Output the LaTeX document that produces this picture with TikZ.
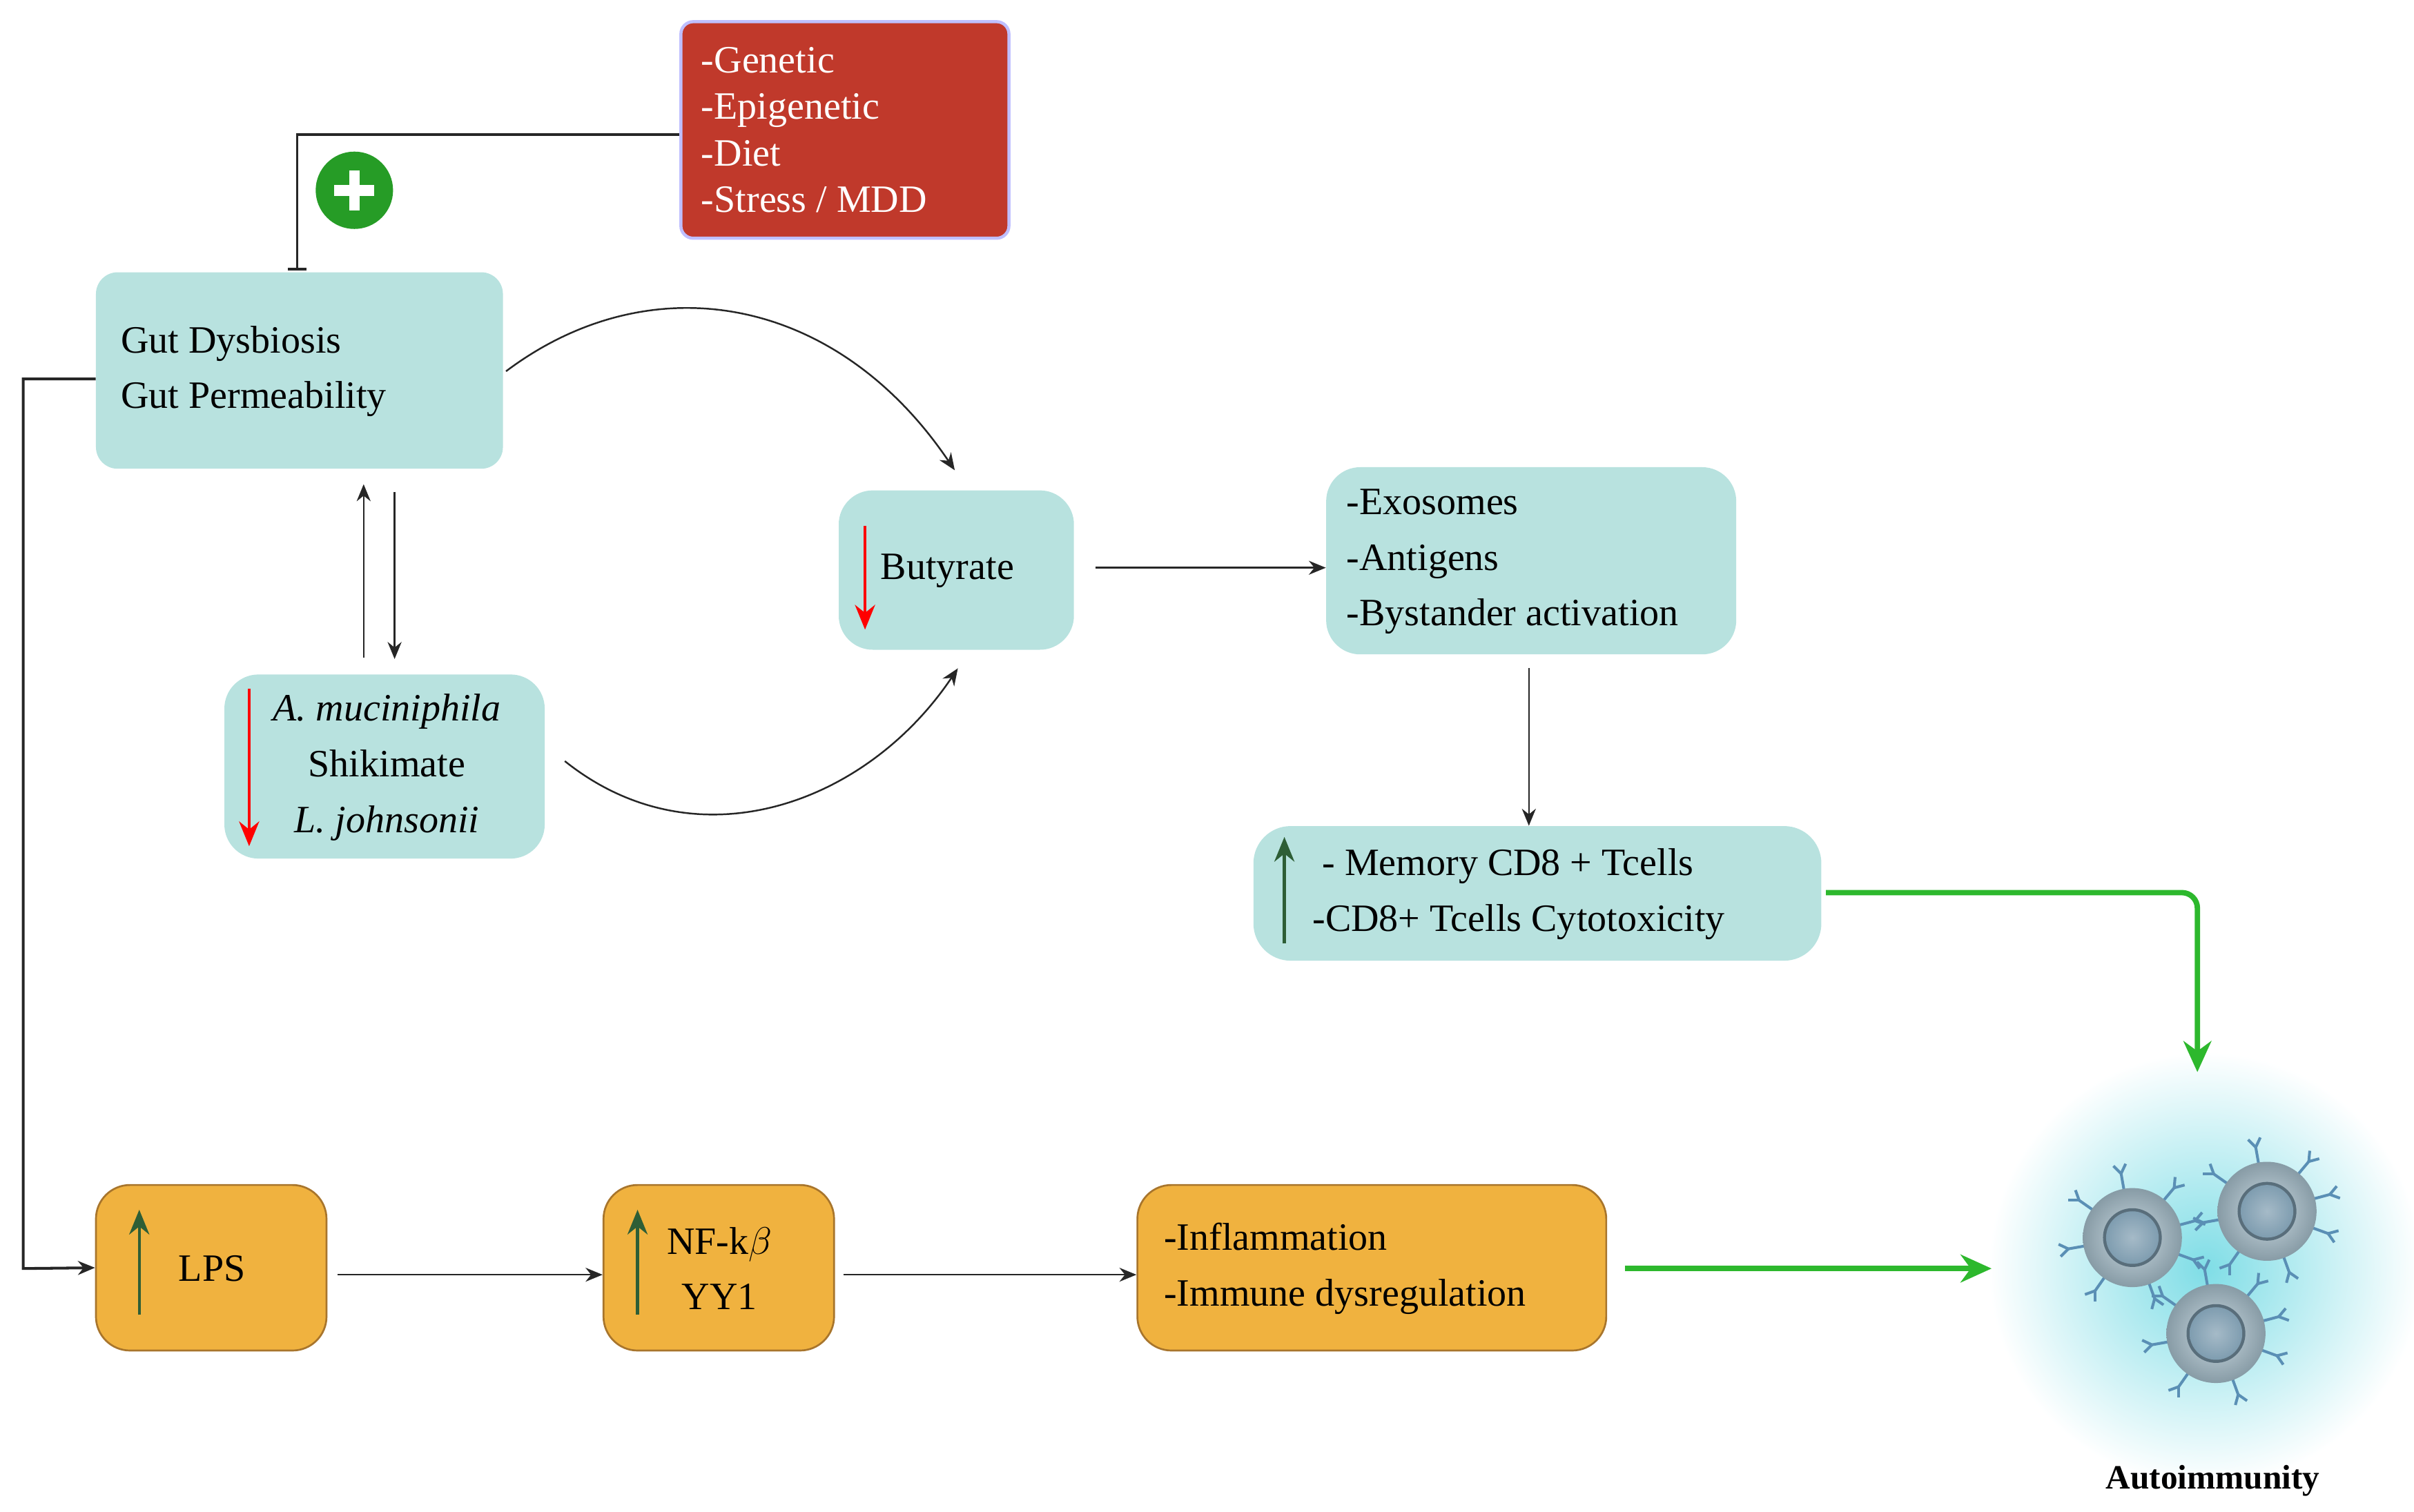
\documentclass[tikz,border=0pt]{standalone}
\usepackage{fontspec}
\setmainfont{Liberation Serif}
\usetikzlibrary{arrows.meta,shadings}
\definecolor{teal1}{HTML}{B8E2DF}
\definecolor{red1}{HTML}{C0392B}
\definecolor{org}{HTML}{F0B23F}
\definecolor{orgb}{HTML}{A8752C}
\definecolor{dgreen}{HTML}{2E5E36}
\definecolor{bgreen}{HTML}{2DB82D}
\definecolor{cellc}{HTML}{A9C2CF}
\definecolor{nuc}{HTML}{7F9DB0}
\definecolor{abc}{HTML}{5A8FB5}
\definecolor{glow}{HTML}{7FDDE6}
\tikzset{
 tbox/.style={fill=teal1,rounded corners=14pt,draw=none},
 obox/.style={fill=org,draw=orgb,line width=1.2pt,rounded corners=22pt},
 txt/.style={font=\fontsize{25}{30}\selectfont,align=left,inner sep=0pt},
 arr/.style={-{Stealth[length=11pt,width=9pt]},line width=1.1pt,black!85},
 redup/.style={-{Stealth[length=16pt,width=13pt]},line width=2pt,red},
 grup/.style={-{Stealth[length=16pt,width=13pt]},line width=2pt,dgreen},
 garr/.style={-{Stealth[length=20pt,width=18pt]},line width=3.5pt,bgreen},
 cell/.pic={
   \foreach \a in {20,70,125,170,215,260,310,345}{
     \draw[abc,line width=1.8pt] (\a:30) -- (\a:42);
     \draw[abc,line width=1.8pt] (\a:42) -- ++(\a+35:7);
     \draw[abc,line width=1.8pt] (\a:42) -- ++(\a-35:7);}
   \shade[inner color=cellc!60,outer color=cellc!80!black] (0,0) circle (32);
   \fill[nuc!70!black] (0,0) circle (19);
   \shade[inner color=nuc!70,outer color=nuc] (0,0) circle (17);
 }
}
\begin{document}
\begin{tikzpicture}[x=1pt,y=-1pt]
\useasboundingbox (0,0) rectangle (1560,977);
% glow
\shade[inner color=glow,outer color=white] (1425,820) circle (140);
% boxes
\node[fill=red1,draw=blue!25,line width=2pt,rounded corners=8pt,minimum width=212pt,minimum height=140pt] (risk) at (546,84) {};
\node[txt,text=white,anchor=west] at (453,84) {-Genetic\\-Epigenetic\\-Diet\\-Stress / MDD};
\node[tbox,minimum width=263pt,minimum height=127pt] (gut) at (193.5,239.5) {};
\node[txt,anchor=west] at (78,240) {Gut Dysbiosis\\[6pt]Gut Permeability};
\node[tbox,minimum width=207pt,minimum height=119pt,rounded corners=22pt] (bac) at (248.5,495.5) {};
\node[txt,align=center] at (250,496) {\textit{A. muciniphila}\\[6pt]Shikimate\\[6pt]\textit{L. johnsonii}};
\draw[redup] (161,445) -- (161,547);
\node[tbox,minimum width=152pt,minimum height=103pt,rounded corners=22pt] (but) at (618,368.5) {};
\node[txt,anchor=west] at (569,369) {Butyrate};
\draw[redup] (559,340) -- (559,407);
\node[tbox,minimum width=265pt,minimum height=121pt,rounded corners=22pt] (exo) at (989.5,362.5) {};
\node[txt,anchor=west] at (870,363) {-Exosomes\\[6pt]-Antigens\\[6pt]-Bystander activation};
\node[tbox,minimum width=367pt,minimum height=87pt,rounded corners=24pt] (mem) at (993.5,577.5) {};
\node[txt,anchor=west] at (848,578) {\ - Memory CD8 + Tcells\\[6pt]-CD8+ Tcells Cytotoxicity};
\draw[grup] (830,610) -- (830,541);
\node[obox,minimum width=149pt,minimum height=107pt] (lps) at (136.5,819.5) {};
\node[txt] at (137,820) {LPS};
\draw[grup] (90,850) -- (90,782);
\node[obox,minimum width=149pt,minimum height=107pt] (nf) at (464.5,819.5) {};
\node[txt,align=center] at (465,820) {NF-k$\beta$\\[6pt]YY1};
\draw[grup] (412,850) -- (412,782);
\node[obox,minimum width=303pt,minimum height=107pt] (inf) at (886.5,819.5) {};
\node[txt,anchor=west] at (752,820) {-Inflammation\\[6pt]-Immune dysregulation};
% connectors
\draw[line width=1.5pt,black!85] (risk.west|-0,87) -- (192,87) -- (192,174);
\draw[line width=1.5pt,black!85] (186,174) -- (198,174);
\fill[bgreen!85!black] (229,123) circle (25);
\fill[white] (216,119.5) rectangle (242,126.5);
\fill[white] (225.5,110) rectangle (232.5,136);
\draw[arr,line width=1.8pt] (gut.west|-0,245) -- (15,245) -- (15,820) -- (lps.west);
\draw[arr] (235,425) -- (235,313);
\draw[arr] (255,318) -- (255,426);
\draw[arr] (327,240) .. controls (420,170) and (540,190) .. (617,304);
\draw[arr] (365,492) .. controls (450,560) and (560,520) .. (619,432);
\draw[arr] (708,367) -- (exo.west|-0,367);
\draw[arr] (988,432) -- (mem.north-|988,0);
\draw[arr] (218,824) -- (nf.west|-0,824);
\draw[arr] (545,824) -- (inf.west|-0,824);
\draw[garr,rounded corners=10pt] (1180,577) -- (1420,577) -- (1420,693);
\draw[garr] (1050,820) -- (1287,820);
\coordinate (auto) at (1425,820);
\pic at (1378,800) {cell};
\pic at (1465,783) {cell};
\pic at (1432,862) {cell};
\node[txt,font=\fontsize{22}{26}\selectfont\bfseries] (lab) at (1430,957) {Autoimmunity};
\end{tikzpicture}
\end{document}
